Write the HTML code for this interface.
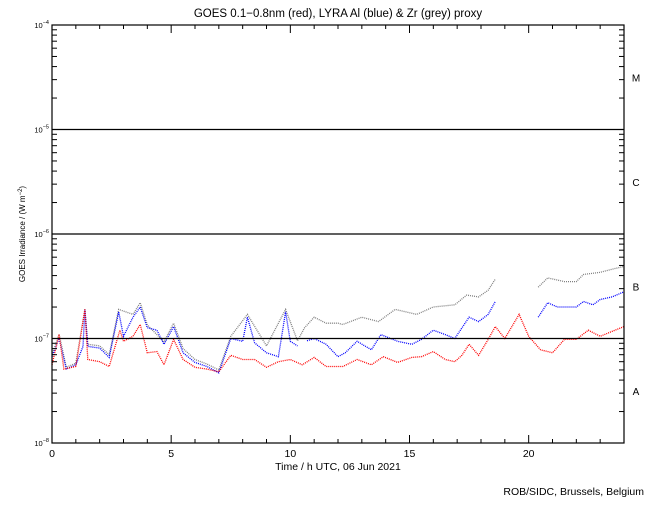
<!DOCTYPE html>
<html><head><meta charset="utf-8"><style>
body{margin:0;background:#fff;}
svg text{font-family:"Liberation Sans",sans-serif;}
</style></head><body>
<svg id="c" width="650" height="500" xmlns="http://www.w3.org/2000/svg">
<text x="338" y="17" font-size="11.5" text-anchor="middle">GOES 0.1−0.8nm (red), LYRA Al (blue) &amp; Zr (grey) proxy</text>
<text transform="translate(25,234) rotate(-90)" font-size="8" text-anchor="middle">GOES Irradiance / (W m<tspan dy="-3" font-size="6">−2</tspan><tspan dy="3">)</tspan></text>
<text x="338" y="470" font-size="10.5" text-anchor="middle">Time / h UTC, 06 Jun 2021</text>
<text x="644" y="495" font-size="10.5" text-anchor="end">ROB/SIDC, Brussels, Belgium</text>
<g id="g"></g>
</svg>
<script>
const redH=[0,0.3,0.5,1,1.38,1.5,2,2.4,2.85,3,3.4,3.7,4,4.4,4.7,5.1,5.5,6,6.5,7,7.5,8,8.5,9,9.5,10,10.5,11,11.5,12,12.2,12.8,13.4,13.9,14.5,15.1,15.5,16,16.5,16.9,17.2,17.5,17.9,18.3,18.6,19,19.6,20,20.5,21,21.5,22,22.5,23,23.5,24];
const redV=[5.6e-8,1.1e-7,5.1e-8,5.4e-8,1.9e-7,6.3e-8,6.0e-8,5.4e-8,1.2e-7,9.4e-8,1.05e-7,1.36e-7,7.3e-8,7.5e-8,5.6e-8,9.8e-8,6.3e-8,5.3e-8,5.1e-8,4.8e-8,6.9e-8,6.3e-8,6.3e-8,5.3e-8,6.0e-8,6.3e-8,5.6e-8,6.6e-8,5.4e-8,5.4e-8,5.4e-8,6.3e-8,5.6e-8,6.7e-8,5.9e-8,6.6e-8,6.7e-8,7.5e-8,6.3e-8,6.0e-8,6.9e-8,8.8e-8,6.9e-8,9.8e-8,1.3e-7,1.0e-7,1.7e-7,1.05e-7,7.8e-8,7.3e-8,9.8e-8,9.8e-8,1.2e-7,1.05e-7,1.17e-7,1.3e-7];
const blueH=[0,0.3,0.6,1,1.3,1.38,1.5,2,2.4,2.8,3,3.4,3.7,4,4.4,4.7,5.1,5.5,6,6.5,7,7.5,8,8.2,8.5,9,9.5,9.8,10,10.3,null,10.7,11,11.5,12,12.3,12.8,13.4,13.8,14.5,15.1,15.5,16,16.5,16.9,17.5,17.9,18.3,18.6,null,20.4,20.8,21.2,22,22.3,22.7,23,23.5,24];
const blueV=[6.7e-8,1.0e-7,5.1e-8,5.6e-8,8.4e-8,1.9e-7,8.4e-8,8.1e-8,6.6e-8,1.8e-7,1.05e-7,1.6e-7,2.0e-7,1.27e-7,1.2e-7,8.8e-8,1.3e-7,7.3e-8,5.9e-8,5.4e-8,4.7e-8,1.0e-7,9.4e-8,1.6e-7,9.1e-8,7.3e-8,6.7e-8,1.8e-7,9.4e-8,8.5e-8,null,9.5e-8,1.0e-7,8.8e-8,6.7e-8,7.3e-8,9.4e-8,7.8e-8,1.09e-7,9.4e-8,8.8e-8,9.8e-8,1.2e-7,1.09e-7,1.0e-7,1.6e-7,1.45e-7,1.7e-7,2.26e-7,null,1.6e-7,2.2e-7,2.0e-7,2.0e-7,2.26e-7,2.1e-7,2.36e-7,2.5e-7,2.8e-7];
const greyH=[0,0.3,0.6,1,1.38,1.5,2,2.4,2.8,3.4,3.7,4,4.7,5.1,5.5,6,6.5,7,7.5,8.2,9,9.8,10.3,10.6,11,11.5,12,12.2,13,13.7,14.4,15.3,16,16.9,17.4,17.9,18.3,18.6,null,20.4,20.8,21.5,22,22.3,23,23.5,24];
const greyV=[7e-8,1.1e-7,5.3e-8,5.8e-8,1.9e-7,8.8e-8,8.5e-8,7e-8,1.9e-7,1.7e-7,2.2e-7,1.35e-7,9.3e-8,1.4e-7,8e-8,6.3e-8,5.7e-8,5e-8,1.05e-7,1.7e-7,8.5e-8,1.9e-7,9.5e-8,1.27e-7,1.6e-7,1.4e-7,1.4e-7,1.36e-7,1.6e-7,1.45e-7,1.9e-7,1.7e-7,2.0e-7,2.1e-7,2.6e-7,2.5e-7,2.9e-7,3.7e-7,null,3.1e-7,3.8e-7,3.5e-7,3.5e-7,4.1e-7,4.3e-7,4.6e-7,4.9e-7];
const xTicks=[0,5,10,15,20];
const yDecades=[-8,-7,-6,-5,-4];
const classLabels=["A","B","C","M"];

const L=52,R=624,T=25,B=443;
const NS="http://www.w3.org/2000/svg";
const g=document.getElementById('g');
const xs=h=>L+(R-L)*h/24;
const ys=v=>B-(B-T)*(Math.log10(v)+8)/4;
function el(t,a){const e=document.createElementNS(NS,t);for(const k in a)e.setAttribute(k,a[k]);g.appendChild(e);return e;}

function series(H,V,col,name){
  let segs=[],cur=[];
  for(let i=0;i<H.length;i++){
    if(H[i]===null){if(cur.length)segs.push(cur);cur=[];continue;}
    cur.push(xs(H[i]).toFixed(1)+','+ys(V[i]).toFixed(1));
  }
  if(cur.length)segs.push(cur);
  segs.forEach(s=>{
    const p=el('polyline',{points:s.join(' '),fill:'none',stroke:col,'stroke-width':1.3,'stroke-dasharray':'1 1'});
    
    
  });
}
series(greyH,greyV,'#808080','zr-grey-series');
series(blueH,blueV,'#0000ff','al-blue-series');
series(redH,redV,'#ff0000','goes-red-series');

const fr=el('rect',{x:L,y:T,width:R-L,height:B-T,fill:'none',stroke:'#000','stroke-width':1.2});


[-7,-6,-5].forEach(d=>{
  const ln=el('line',{x1:L,x2:R,y1:ys(Math.pow(10,d)),y2:ys(Math.pow(10,d)),stroke:'#000','stroke-width':1.2});
  
  
});
yDecades.forEach(d=>{
  const y=ys(Math.pow(10,d));
  const t=el('text',{x:L-3,y:y+3,'font-size':7.5,'text-anchor':'end'});
  t.innerHTML='10<tspan dy="-4" font-size="5.5">'+(d<0?'−':'')+Math.abs(d)+'</tspan>';
  
  
  if(d<-4)for(let k=2;k<10;k++){
    const yy=ys(k*Math.pow(10,d));
    el('line',{x1:L,x2:L+5,y1:yy,y2:yy,stroke:'#000'});
    el('line',{x1:R-5,x2:R,y1:yy,y2:yy,stroke:'#000'});
  }
});
for(let h=0;h<=24;h++){
  const x=xs(h),len=(h%5===0)?8:4;
  el('line',{x1:x,x2:x,y1:B,y2:B-len,stroke:'#000'});
  el('line',{x1:x,x2:x,y1:T,y2:T+len,stroke:'#000'});
}
xTicks.forEach(h=>{
  const t=el('text',{x:xs(h),y:457,'font-size':10.5,'text-anchor':'middle'});
  t.textContent=h;
  
  
});
classLabels.forEach((c,i)=>{
  const t=el('text',{x:636,y:ys(Math.pow(10,-7.5+i))+4,'font-size':10,'text-anchor':'middle'});
  t.textContent=c;
  
  
});
</script>
</body></html>
